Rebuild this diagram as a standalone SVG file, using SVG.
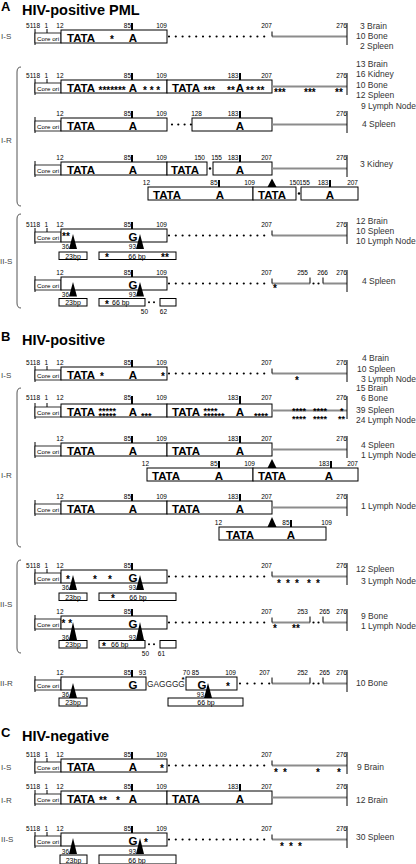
<svg xmlns="http://www.w3.org/2000/svg" width="416" height="864" viewBox="0 0 416 864">
<style>
text{font-family:"Liberation Sans",Arial,Helvetica,sans-serif;fill:#000}
.ttl{font-size:14.5px;font-weight:bold}
.sec{font-size:13px;font-weight:bold}
.n{font-size:6.5px;text-anchor:end}
.b{font-size:11.5px;font-weight:bold}
.st{font-size:10px;font-weight:bold}
.s2{font-size:9px;font-weight:bold}
.m{text-anchor:middle}
.co{font-size:6.2px}
.sb{font-size:7px}
.lb{font-size:8.5px;fill:#333}
.rl{font-size:8px;fill:#444}
.gg{font-size:8.3px;fill:#222}
.bx{fill:#fff;stroke:#000;stroke-width:1}
.cb{fill:#fff;stroke:#000;stroke-width:0.8}
.ln{fill:none;stroke:#000;stroke-width:1}
.br{fill:none;stroke:#555;stroke-width:1}
.tk{stroke:#000;stroke-width:2}
.gr{stroke:#8c8c8c;stroke-width:2.2}
.dt{stroke:#000;stroke-width:2.2;stroke-linecap:round;stroke-dasharray:0 6.8}
.dot{fill:#000}
.tri{fill:#000}
</style>
<defs>
<g id="core"><path class="ln" d="M35,-1V15"/><rect class="cb" x="35" y="3" width="26" height="10"/><text class="co" x="37" y="11">Core ori</text></g>
</defs>

<g id="brackets">
<path class="br" d="M21,67 Q17,67 17,72 V201 Q17,206 21,206"/>
<path class="br" d="M21,214 Q17,214 17,219 V303 Q17,308 21,308"/>
<path class="br" d="M21,388 Q17,388 17,393 V542 Q17,547 21,547"/>
<path class="br" d="M21,560 Q17,560 17,565 V648 Q17,653 21,653"/>
<text class="rl" x="1" y="143">I-R</text>
<text class="rl" x="0" y="264">II-S</text>
<text class="rl" x="1" y="478">I-R</text>
<text class="rl" x="0" y="607">II-S</text>
</g>

<g id="titleA"><text class="sec" x="1" y="10.5">A</text><text class="ttl" x="22" y="15">HIV-positive PML</text></g>

<g id="A-IS" transform="translate(0,30)">
<use href="#core"/><path class="ln" d="M47,-1V3"/>
<rect class="bx" x="61" y="0" width="106" height="13"/>
<path class="tk" d="M132,-7V0"/>
<path class="dt" d="M169,6.5H271"/>
<path class="gr" d="M272,6.5H347"/>
<path class="ln" d="M272,1.5V6.5"/>
<path class="ln" d="M347,-7V15"/>
<text class="b" x="67" y="11.5">TATA</text>
<text class="b m" x="133" y="11.5">A</text>
<text class="st m" x="112" y="12.5">*</text>
<text class="n" y="-2.5"><tspan x="40">5118</tspan><tspan x="48">1</tspan><tspan x="63.5">12</tspan><tspan x="131">85</tspan><tspan x="167">109</tspan><tspan x="272">207</tspan><tspan x="347">276</tspan></text>
<text class="rl" x="1" y="9">I-S</text>
<text class="lb" x="360" y="-1.5">3 Brain</text>
<text class="lb" x="356" y="8.5">10 Bone</text>
<text class="lb" x="360" y="18.5">2 Spleen</text>
</g>

<g id="A-IR1" transform="translate(0,80)">
<use href="#core"/><path class="ln" d="M47,-1V3"/>
<rect class="bx" x="61" y="0" width="106" height="13"/>
<rect class="bx" x="167" y="0" width="105" height="13"/>
<path class="tk" d="M132,-7V0M240,-7V0"/>
<path class="gr" d="M272,6.5H347"/>
<path class="ln" d="M347,-7V15"/>
<text class="b" x="67" y="11.5">TATA</text>
<text class="b m" x="133" y="11.5">A</text>
<text class="b" x="172" y="11.5">TATA</text>
<text class="b m" x="240" y="11.5">A</text>
<text class="st" y="13.5"><tspan x="98.5">*******</tspan><tspan x="143">* * *</tspan><tspan x="203.5">***</tspan><tspan x="227">**</tspan><tspan x="246">** **</tspan></text>
<text class="st" y="16"><tspan x="274">***</tspan><tspan x="304">***</tspan><tspan x="335">**</tspan></text>
<text class="n" y="-2.5"><tspan x="40">5118</tspan><tspan x="48">1</tspan><tspan x="63.5">12</tspan><tspan x="131">85</tspan><tspan x="167">109</tspan><tspan x="238.5">183</tspan><tspan x="272">207</tspan><tspan x="347">276</tspan></text>
<text class="lb" x="356" y="-13.5">13 Brain</text>
<text class="lb" x="356" y="-3">16 Kidney</text>
<text class="lb" x="356" y="7.5">10 Bone</text>
<text class="lb" x="356" y="18">12 Spleen</text>
<text class="lb" x="361" y="28.5">9 Lymph Node</text>
</g>

<g id="A-IR2" transform="translate(0,118)">
<use href="#core"/>
<rect class="bx" x="61" y="0" width="106" height="13"/>
<path class="dt" d="M172,6.5H191" style="stroke-dasharray:0 6.3"/>
<rect class="bx" x="192" y="0" width="80" height="13"/>
<path class="tk" d="M132,-7V0M240,-7V0"/>
<path class="gr" d="M272,6.5H347"/>
<path class="ln" d="M347,-7V15"/>
<text class="b" x="67" y="11.5">TATA</text>
<text class="b m" x="133" y="11.5">A</text>
<text class="b m" x="240" y="11.5">A</text>
<text class="n" y="-2.5"><tspan x="63.5">12</tspan><tspan x="131">85</tspan><tspan x="167">109</tspan><tspan x="202">128</tspan><tspan x="238.5">183</tspan><tspan x="347">276</tspan></text>
<text class="lb" x="362" y="9">4 Spleen</text>
</g>

<g id="A-IR3" transform="translate(0,162)">
<use href="#core"/>
<rect class="bx" x="61" y="0" width="106" height="13"/>
<rect class="bx" x="167" y="0" width="40" height="13"/>
<circle class="dot" cx="210" cy="6.5" r="1.2"/>
<rect class="bx" x="213" y="0" width="59" height="13"/>
<path class="tk" d="M132,-7V0M240,-7V0"/>
<path class="gr" d="M272,6.5H347"/>
<path class="ln" d="M347,-7V15"/>
<text class="b" x="67" y="11.5">TATA</text>
<text class="b m" x="133" y="11.5">A</text>
<text class="b" x="171" y="11.5">TATA</text>
<text class="b m" x="240" y="11.5">A</text>
<text class="n" y="-2.5"><tspan x="63.5">12</tspan><tspan x="131">85</tspan><tspan x="167">109</tspan><tspan x="205">150</tspan><tspan x="222">155</tspan><tspan x="238.5">183</tspan><tspan x="272">207</tspan><tspan x="347">276</tspan></text>
<text class="lb" x="360" y="5">3 Kidney</text>
<path class="tri" d="M272,16.5L276.5,25H267.5Z"/>
<rect class="bx" x="148" y="25" width="105" height="13"/>
<rect class="bx" x="253" y="25" width="43" height="13"/>
<circle class="dot" cx="299" cy="31.5" r="1.2"/>
<rect class="bx" x="301" y="25" width="57" height="13"/>
<path class="tk" d="M219,18V25M330,18V25"/>
<text class="b" x="153" y="36.5">TATA</text>
<text class="b m" x="220" y="36.5">A</text>
<text class="b" x="258" y="36.5">TATA</text>
<text class="b m" x="330" y="36.5">A</text>
<text class="n" y="23"><tspan x="150">12</tspan><tspan x="217.5">85</tspan><tspan x="255">109</tspan><tspan x="300">150</tspan><tspan x="310">155</tspan><tspan x="328.5">183</tspan><tspan x="358">207</tspan></text>
</g>

<g id="A-IIS1" transform="translate(0,229)">
<use href="#core"/><path class="ln" d="M47,-1V3"/>
<rect class="bx" x="61" y="0" width="106" height="13"/>
<path class="tk" d="M132,-7V0"/>
<path class="dt" d="M169,6.5H271"/>
<path class="gr" d="M272,6.5H347"/>
<path class="ln" d="M272,1.5V6.5"/>
<path class="ln" d="M347,-7V15"/>
<text class="st" x="62" y="11">**</text>
<text class="b m" x="133" y="11.5">G</text>
<path class="tri" d="M73,5L77,20H69ZM140,5L144,20H136Z"/>
<text class="n" y="20"><tspan x="69">36</tspan><tspan x="136">93</tspan></text>
<rect class="bx" x="59" y="23" width="28" height="7.5"/>
<rect class="bx" x="99" y="23" width="77" height="7.5"/>
<text class="sb m" x="73" y="29.5">23bp</text>
<text class="sb m" x="137" y="29.5">66 bp</text>
<text class="st m" x="107" y="32">*</text>
<text class="st" x="161" y="32">**</text>
<text class="n" y="-2.5"><tspan x="40">5118</tspan><tspan x="48">1</tspan><tspan x="63.5">12</tspan><tspan x="131">85</tspan><tspan x="167">109</tspan><tspan x="272">207</tspan><tspan x="347">276</tspan></text>
<text class="lb" x="356" y="-5">12 Brain</text>
<text class="lb" x="356" y="5">10 Spleen</text>
<text class="lb" x="356" y="15">10 Lymph Node</text>
</g>

<g id="A-IIS2" transform="translate(0,277)">
<use href="#core"/>
<rect class="bx" x="61" y="0" width="106" height="13"/>
<path class="tk" d="M132,-7V0"/>
<path class="dt" d="M169,6.5H271"/>
<path class="gr" d="M272,6.5H310M323,6.5H347"/>
<path class="ln" d="M272,1.5V6.5M310,0.5V6.5M323,0.5V6.5"/>
<circle class="dot" cx="313.5" cy="6.5" r="1.1"/><circle class="dot" cx="318.5" cy="6.5" r="1.1"/>
<path class="ln" d="M347,-7V15"/>
<text class="st m" x="275" y="15">*</text>
<text class="b m" x="133" y="11.5">G</text>
<path class="tri" d="M73,5L77,19.5H69ZM140,5L144,19.5H136Z"/>
<text class="n" y="19.5"><tspan x="69">36</tspan><tspan x="136">93</tspan></text>
<rect class="bx" x="59" y="21.5" width="28" height="7.5"/>
<rect class="bx" x="99" y="21.5" width="46" height="7.5"/>
<circle class="dot" cx="149" cy="25.2" r="1"/><circle class="dot" cx="154" cy="25.2" r="1"/>
<rect class="bx" x="160" y="21.5" width="16" height="7.5"/>
<text class="sb m" x="73" y="28">23bp</text>
<text class="st m" x="107" y="31">*</text>
<text class="sb" x="112" y="28">66 bp</text>
<text class="n" y="37"><tspan x="148">50</tspan><tspan x="167">62</tspan></text>
<text class="n" y="-2.5"><tspan x="63.5">12</tspan><tspan x="131">85</tspan><tspan x="167">109</tspan><tspan x="272">207</tspan><tspan x="308">255</tspan><tspan x="328">266</tspan><tspan x="347">276</tspan></text>
<text class="lb" x="362" y="7">4 Spleen</text>
</g>

<g id="titleB"><text class="sec" x="1" y="341">B</text><text class="ttl" x="22" y="345">HIV-positive</text></g>

<g id="B-IS" transform="translate(0,367)">
<use href="#core"/><path class="ln" d="M47,-1V3"/>
<rect class="bx" x="61" y="0" width="106" height="13"/>
<path class="tk" d="M132,-7V0"/>
<path class="dt" d="M169,6.5H271"/>
<path class="gr" d="M272,6.5H347"/>
<path class="ln" d="M272,1.5V6.5"/>
<path class="ln" d="M347,-7V15"/>
<text class="b" x="67" y="11.5">TATA</text>
<text class="st m" x="102" y="13">*</text>
<text class="b m" x="133" y="11.5">A</text>
<text class="st m" x="163" y="13">*</text>
<text class="st m" x="297" y="17">*</text>
<text class="n" y="-2.5"><tspan x="40">5118</tspan><tspan x="48">1</tspan><tspan x="63.5">12</tspan><tspan x="131">85</tspan><tspan x="167">109</tspan><tspan x="272">207</tspan><tspan x="347">276</tspan></text>
<text class="rl" x="1" y="11">I-S</text>
<text class="lb" x="362" y="-6">4 Brain</text>
<text class="lb" x="357" y="5">10 Spleen</text>
<text class="lb" x="361" y="15">3 Lymph Node</text>
</g>

<g id="B-IR1" transform="translate(0,404)">
<use href="#core"/><path class="ln" d="M47,-1V3"/>
<rect class="bx" x="61" y="0" width="106" height="13"/>
<rect class="bx" x="167" y="0" width="105" height="13"/>
<path class="tk" d="M132,-8V0M240,-8V0"/>
<path class="gr" d="M272,6.5H347"/>
<path class="ln" d="M347,-8V15"/>
<text class="b" x="67" y="11.5">TATA</text>
<text class="b m" x="133" y="11.5">A</text>
<text class="b" x="172" y="11.5">TATA</text>
<text class="b m" x="240" y="11.5">A</text>
<text class="s2" y="9.5"><tspan x="98.5">*****</tspan><tspan x="203.5">****</tspan><tspan x="292">****</tspan><tspan x="313">****</tspan><tspan x="340">*</tspan></text>
<text class="s2" y="14.5"><tspan x="98.5">*****</tspan><tspan x="141">***</tspan><tspan x="203.5">******</tspan><tspan x="254">****</tspan></text>
<text class="s2" y="17.5"><tspan x="292">****</tspan><tspan x="313">****</tspan><tspan x="338">**</tspan></text>
<text class="n" y="-4"><tspan x="40">5118</tspan><tspan x="48">1</tspan><tspan x="63.5">12</tspan><tspan x="131">85</tspan><tspan x="167">109</tspan><tspan x="238.5">183</tspan><tspan x="272">207</tspan><tspan x="347">276</tspan></text>
<text class="lb" x="356" y="-13">15 Brain</text>
<text class="lb" x="361" y="-3">6 Bone</text>
<text class="lb" x="356" y="9">39 Spleen</text>
<text class="lb" x="356" y="19">24 Lymph Node</text>
</g>

<g id="B-IR2" transform="translate(0,443)">
<use href="#core"/>
<rect class="bx" x="61" y="0" width="106" height="13"/>
<rect class="bx" x="167" y="0" width="105" height="13"/>
<path class="tk" d="M132,-7V0M240,-7V0"/>
<path class="gr" d="M272,6.5H347"/>
<path class="ln" d="M347,-7V15"/>
<text class="b" x="67" y="11.5">TATA</text>
<text class="b m" x="133" y="11.5">A</text>
<text class="b" x="172" y="11.5">TATA</text>
<text class="b m" x="240" y="11.5">A</text>
<text class="n" y="-2.5"><tspan x="63.5">12</tspan><tspan x="131">85</tspan><tspan x="167">109</tspan><tspan x="238.5">183</tspan><tspan x="272">207</tspan><tspan x="347">276</tspan></text>
<text class="lb" x="361" y="5">4 Spleen</text>
<text class="lb" x="361" y="15">1 Lymph Node</text>
<path class="tri" d="M272,16L276.5,25H267.5Z"/>
<rect class="bx" x="147" y="25" width="106" height="13"/>
<rect class="bx" x="253" y="25" width="105" height="13"/>
<path class="tk" d="M219,18V25M331,18V25"/>
<text class="b" x="152" y="36.5">TATA</text>
<text class="b m" x="219" y="36.5">A</text>
<text class="b" x="258" y="36.5">TATA</text>
<text class="b m" x="329" y="36.5">A</text>
<text class="n" y="23"><tspan x="149">12</tspan><tspan x="217.5">85</tspan><tspan x="255">109</tspan><tspan x="329.5">183</tspan><tspan x="358">207</tspan></text>
</g>

<g id="B-IR3" transform="translate(0,501)">
<use href="#core"/>
<rect class="bx" x="61" y="0" width="106" height="13"/>
<rect class="bx" x="167" y="0" width="105" height="13"/>
<path class="tk" d="M132,-7V0M240,-7V0"/>
<path class="gr" d="M272,6.5H347"/>
<path class="ln" d="M347,-7V15"/>
<text class="b" x="67" y="11.5">TATA</text>
<text class="b m" x="133" y="11.5">A</text>
<text class="b" x="172" y="11.5">TATA</text>
<text class="b m" x="240" y="11.5">A</text>
<text class="n" y="-2.5"><tspan x="63.5">12</tspan><tspan x="131">85</tspan><tspan x="167">109</tspan><tspan x="238.5">183</tspan><tspan x="272">207</tspan><tspan x="347">276</tspan></text>
<text class="lb" x="361" y="8">1 Lymph Node</text>
<path class="tri" d="M272,16L276.5,26H267.5Z"/>
<rect class="bx" x="219" y="26" width="107" height="13"/>
<path class="tk" d="M291,19V26"/>
<text class="b" x="226" y="37.5">TATA</text>
<text class="b m" x="291" y="37.5">A</text>
<text class="n" y="24"><tspan x="222">12</tspan><tspan x="289.5">85</tspan><tspan x="332">109</tspan></text>
</g>

<g id="B-IIS1" transform="translate(0,570)">
<use href="#core"/><path class="ln" d="M47,-1V3"/>
<rect class="bx" x="61" y="0" width="106" height="13"/>
<path class="tk" d="M132,-7V0"/>
<path class="dt" d="M169,6.5H271"/>
<path class="gr" d="M272,6.5H347"/>
<path class="ln" d="M272,1.5V6.5"/>
<path class="ln" d="M347,-7V15"/>
<text class="st" y="12.5"><tspan x="66">*</tspan><tspan x="93">*</tspan><tspan x="108">*</tspan></text>
<text class="b m" x="133" y="11.5">G</text>
<text class="st" y="16.5"><tspan x="277">*</tspan><tspan x="286">*</tspan><tspan x="295">*</tspan><tspan x="307">*</tspan><tspan x="316">*</tspan></text>
<path class="tri" d="M73,5L77,20H69ZM140,5L144,20H136Z"/>
<text class="n" y="20"><tspan x="69">36</tspan><tspan x="136">93</tspan></text>
<rect class="bx" x="59" y="23" width="28" height="7.5"/>
<rect class="bx" x="99" y="23" width="77" height="7.5"/>
<text class="sb m" x="73" y="29.5">23bp</text>
<text class="st m" x="113" y="32">*</text>
<text class="sb m" x="138" y="29.5">66 bp</text>
<text class="n" y="-2.5"><tspan x="40">5118</tspan><tspan x="48">1</tspan><tspan x="63.5">12</tspan><tspan x="131">85</tspan><tspan x="272">207</tspan><tspan x="347">276</tspan></text>
<text class="lb" x="356" y="2">12 Spleen</text>
<text class="lb" x="361" y="14">3 Lymph Node</text>
</g>

<g id="B-IIS2" transform="translate(0,616)">
<use href="#core"/>
<rect class="bx" x="61" y="0" width="106" height="13"/>
<path class="tk" d="M132,-7V0"/>
<path class="dt" d="M169,6.5H271"/>
<path class="gr" d="M272,6.5H310M323,6.5H347"/>
<path class="ln" d="M272,1.5V6.5M310,0.5V6.5M323,0.5V6.5"/>
<circle class="dot" cx="313.5" cy="6.5" r="1.1"/><circle class="dot" cx="318.5" cy="6.5" r="1.1"/>
<path class="ln" d="M347,-7V15"/>
<text class="st" x="61.5" y="11">* *</text>
<text class="b m" x="133" y="11.5">G</text>
<text class="st m" x="275" y="15.5">*</text>
<text class="st" x="292" y="15.5">**</text>
<path class="tri" d="M73,6L77,24H69ZM140,6L144,24H136Z"/>
<text class="n" y="23.5"><tspan x="69">36</tspan><tspan x="136">93</tspan></text>
<rect class="bx" x="59" y="24.5" width="28" height="7.5"/>
<rect class="bx" x="99" y="24.5" width="46" height="7.5"/>
<circle class="dot" cx="149" cy="28.2" r="1"/><circle class="dot" cx="154" cy="28.2" r="1"/>
<rect class="bx" x="160" y="24.5" width="16" height="7.5"/>
<text class="sb m" x="73" y="31">23bp</text>
<text class="st m" x="104" y="34">*</text>
<text class="sb" x="111" y="31">66 bp</text>
<text class="n" y="40"><tspan x="149">50</tspan><tspan x="165">61</tspan></text>
<text class="n" y="-2.5"><tspan x="63.5">12</tspan><tspan x="131">85</tspan><tspan x="272">207</tspan><tspan x="308">253</tspan><tspan x="330">265</tspan><tspan x="347">276</tspan></text>
<text class="lb" x="361" y="3">9 Bone</text>
<text class="lb" x="361" y="13">1 Lymph Node</text>
</g>

<g id="B-IIR" transform="translate(0,677)">
<use href="#core"/>
<rect class="bx" x="61" y="0" width="85" height="13"/>
<path class="tk" d="M132,-7V0"/>
<text class="b m" x="133" y="11.5">G</text>
<text class="gg" x="147" y="10">GAGGGG</text>
<text class="m" x="183" y="4.5" style="font-size:8px;font-weight:bold">*</text>
<rect class="bx" x="186" y="0" width="51" height="13"/>
<text class="b m" x="202" y="11.5">G</text>
<text class="st m" x="228" y="12.5">*</text>
<path class="dt" d="M240,6.5H269.2" style="stroke-dasharray:0 7.3"/>
<path class="gr" d="M272,6.5H310M323,6.5H347"/>
<path class="ln" d="M272,0.5V6.5M310,0.5V6.5M323,0.5V6.5"/>
<circle class="dot" cx="313.5" cy="6.5" r="1.1"/><circle class="dot" cx="318.5" cy="6.5" r="1.1"/>
<path class="ln" d="M347,-7V15"/>
<path class="tri" d="M73,6L77,21H69ZM208,6L212,21H204Z"/>
<text class="n" y="20"><tspan x="69">36</tspan><tspan x="204">93</tspan></text>
<rect class="bx" x="59" y="21" width="28" height="8"/>
<rect class="bx" x="168" y="21" width="75" height="8"/>
<text class="sb m" x="73" y="28">23bp</text>
<text class="sb m" x="206" y="28">66 bp</text>
<text class="n" y="-2.5"><tspan x="63.5">12</tspan><tspan x="131">85</tspan><tspan x="146">93</tspan><tspan x="190">70</tspan><tspan x="199">85</tspan><tspan x="236">109</tspan><tspan x="270">207</tspan><tspan x="308">252</tspan><tspan x="330">265</tspan><tspan x="347">276</tspan></text>
<text class="rl" x="0" y="9">II-R</text>
<text class="lb" x="356" y="9">10 Bone</text>
</g>

<g id="titleC"><text class="sec" x="1" y="737">C</text><text class="ttl" x="22" y="741">HIV-negative</text></g>

<g id="C-IS" transform="translate(0,759)">
<use href="#core"/><path class="ln" d="M47,-1V3"/>
<rect class="bx" x="61" y="0" width="106" height="13"/>
<path class="tk" d="M132,-7V0"/>
<path class="dt" d="M169,6.5H271"/>
<path class="gr" d="M272,6.5H347"/>
<path class="ln" d="M272,1.5V6.5"/>
<path class="ln" d="M347,-7V15"/>
<text class="b" x="67" y="11.5">TATA</text>
<text class="b m" x="133" y="11.5">A</text>
<text class="st m" x="162" y="12.5">*</text>
<text class="st" y="16.5"><tspan x="274">*</tspan><tspan x="283">*</tspan><tspan x="316">*</tspan><tspan x="337">*</tspan></text>
<text class="n" y="-2.5"><tspan x="40">5118</tspan><tspan x="48">1</tspan><tspan x="63.5">12</tspan><tspan x="131">85</tspan><tspan x="167">109</tspan><tspan x="272">207</tspan><tspan x="347">276</tspan></text>
<text class="rl" x="1" y="11">I-S</text>
<text class="lb" x="357" y="11">9 Brain</text>
</g>

<g id="C-IR" transform="translate(0,791)">
<use href="#core"/><path class="ln" d="M47,-1V3"/>
<rect class="bx" x="61" y="0" width="106" height="13"/>
<rect class="bx" x="167" y="0" width="105" height="13"/>
<path class="tk" d="M132,-7V0M240,-7V0"/>
<path class="gr" d="M272,6.5H347"/>
<path class="ln" d="M347,-7V15"/>
<text class="b" x="67" y="11.5">TATA</text>
<text class="st" y="12.5"><tspan x="99">**</tspan><tspan x="116">*</tspan></text>
<text class="b m" x="133" y="11.5">A</text>
<text class="b" x="172" y="11.5">TATA</text>
<text class="b m" x="240" y="11.5">A</text>
<text class="n" y="-2.5"><tspan x="40">5118</tspan><tspan x="48">1</tspan><tspan x="63.5">12</tspan><tspan x="131">85</tspan><tspan x="167">109</tspan><tspan x="238.5">183</tspan><tspan x="272">207</tspan><tspan x="347">276</tspan></text>
<text class="rl" x="1" y="12">I-R</text>
<text class="lb" x="356" y="12">12 Brain</text>
</g>

<g id="C-IIS" transform="translate(0,833)">
<use href="#core"/><path class="ln" d="M47,-1V3"/>
<rect class="bx" x="61" y="0" width="106" height="13"/>
<path class="tk" d="M132,-7V0"/>
<path class="dt" d="M169,6.5H271"/>
<path class="gr" d="M272,6.5H347"/>
<path class="ln" d="M272,1.5V6.5"/>
<path class="ln" d="M347,-7V15"/>
<text class="b m" x="133" y="11.5">G</text>
<text class="st m" x="146" y="12.5">*</text>
<text class="st" y="16.5"><tspan x="280">*</tspan><tspan x="289">*</tspan><tspan x="298">*</tspan></text>
<path class="tri" d="M73,5L77,21H69ZM140,5L144,21H136Z"/>
<text class="n" y="20.5"><tspan x="69">36</tspan><tspan x="136">93</tspan></text>
<rect class="bx" x="60" y="22" width="27" height="9"/>
<rect class="bx" x="99" y="22" width="77" height="9"/>
<text class="sb m" x="73.5" y="29.5">23bp</text>
<text class="sb m" x="137" y="29.5">66 bp</text>
<text class="n" y="-2.5"><tspan x="40">5118</tspan><tspan x="48">1</tspan><tspan x="63.5">12</tspan><tspan x="131">85</tspan><tspan x="167">109</tspan><tspan x="272">207</tspan><tspan x="347">276</tspan></text>
<text class="rl" x="1" y="9">II-S</text>
<text class="lb" x="356" y="7">30 Spleen</text>
</g>
</svg>
